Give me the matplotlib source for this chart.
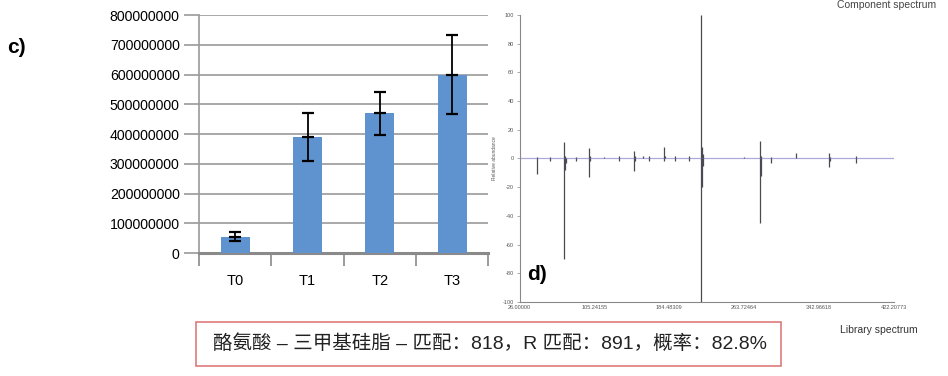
import matplotlib.pyplot as plt
from matplotlib.patches import Rectangle

# --- panel c) bar chart data
groups = ['T0', 'T1', 'T2', 'T3']
means = [55000000, 390000000, 470000000, 600000000]
errs = [15000000, 80000000, 72000000, 133000000]
yticks_c = [0, 100000000, 200000000, 300000000, 400000000, 500000000, 600000000, 700000000, 800000000]

# --- panel d) mass spectrum data (m/z, relative abundance)
comp_mz = [45, 58, 73, 74, 86, 100, 101, 115, 131, 147, 148, 157, 163, 179, 180, 191, 205,
           218, 219, 220, 264, 280, 281, 292, 319, 353, 354, 382]
comp_int = [1, 1, 11.6, 2, 1, 7.4, 1.5, 1, 1.5, 5, 2, 1.5, 1.5, 8, 2, 1.5, 1.5,
            100, 8, 3, 1, 12.5, 2, 1, 3.5, 3.5, 1, 1.5]
lib_mz = [45, 58, 73, 74, 75, 86, 100, 101, 131, 147, 148, 163, 179, 191, 205,
          218, 219, 220, 280, 281, 292, 353, 354, 382]
lib_int = [-10.5, -2, -70, -8, -3, -2, -13, -2, -1.5, -8.8, -2, -1.5, -2, -1.5, -1.5,
           -100, -20, -5, -45, -12, -3, -6, -1.5, -3]
xticks_d = [26.00000, 105.24155, 184.48309, 263.72464, 342.96618, 422.20773]
yticks_d = [100, 80, 60, 40, 20, 0, -20, -40, -60, -80, -100]

label_text = '酪氨酸 – 三甲基硅脂 – 匹配：818，R 匹配：891，概率：82.8%'

plt.rcParams['font.family'] = ['Liberation Sans', 'DejaVu Sans']

fig = plt.figure(figsize=(9.48, 3.76), dpi=100)

# ---------------- panel c)
ax1 = fig.add_axes([0.21, 0.327, 0.305, 0.633])
x = range(len(groups))
ax1.bar(x, means, width=0.4, color='#5f93cf', zorder=3)
ax1.errorbar(x, means, yerr=errs, fmt='_', color='black', ecolor='black',
             elinewidth=1.3, capsize=4.5, capthick=1.3, markersize=9,
             markeredgewidth=1.6, zorder=4)
ax1.set_xlim(-0.5, 3.5)
ax1.set_ylim(0, 800000000)
ax1.set_yticks(yticks_c)
ax1.set_yticklabels([str(v) for v in yticks_c])
ax1.yaxis.grid(True, color='#9a9a9a', linewidth=1.2, zorder=0)
ax1.set_xticks(list(x))
ax1.set_xticklabels(groups)
ax1.set_xticks([-0.5, 0.5, 1.5, 2.5, 3.5], minor=True)
ax1.tick_params(axis='x', which='major', length=0, pad=15, labelsize=10.5)
ax1.tick_params(axis='x', which='minor', length=9, color='#8a8a8a', width=1.2)
ax1.tick_params(axis='y', length=11, color='#9a9a9a', width=1.2, pad=3, labelsize=10.2)
for s in ['top', 'right']:
    ax1.spines[s].set_visible(False)
ax1.spines['left'].set_color('#9a9a9a')
ax1.spines['left'].set_linewidth(1.2)
ax1.spines['bottom'].set_color('#8a8a8a')
ax1.spines['bottom'].set_linewidth(2.2)
ax1.set_axisbelow(True)

fig.text(0.007, 0.873, 'c)', fontsize=15, fontweight='bold', va='center')

# ---------------- panel d)
ax2 = fig.add_axes([0.548, 0.197, 0.395, 0.763])
ax2.axhline(0, color='#a9acdb', linewidth=0.9, zorder=1)
ax2.vlines(comp_mz, 0, comp_int, color='#4a4a55', linewidth=0.9, zorder=2)
ax2.vlines(lib_mz, 0, lib_int, color='#4a4a55', linewidth=0.9, zorder=2)
ax2.set_xlim(26.0, 422.20773)
ax2.set_ylim(-100, 100)
ax2.set_xticks(xticks_d)
ax2.set_xticklabels(['%.5f' % v for v in xticks_d])
ax2.set_yticks(yticks_d)
ax2.set_yticklabels([str(v) for v in yticks_d])
ax2.tick_params(axis='x', length=0, pad=2, labelsize=4, labelcolor='#555555')
ax2.tick_params(axis='y', length=2, width=0.5, color='#888888', pad=2,
                labelsize=4, labelcolor='#555555')
for s in ['top', 'right']:
    ax2.spines[s].set_visible(False)
for s in ['left', 'bottom']:
    ax2.spines[s].set_color('#888888')
    ax2.spines[s].set_linewidth(0.8)
ax2.set_ylabel('Relative abundance', fontsize=3.5, color='#555555', labelpad=4)

fig.text(0.556, 0.27, 'd)', fontsize=15, fontweight='bold', va='center')
fig.text(0.987, 1 - 8 / 376, 'Component spectrum', fontsize=7.5, color='#444444',
         ha='right', va='baseline')
fig.text(0.927, 0.122, 'Library spectrum', fontsize=7.5, color='#333333',
         ha='center', va='center')

# ---------------- caption box
fig.patches.append(Rectangle((196 / 948, 1 - 366 / 376), 585 / 948, 44 / 376,
                             transform=fig.transFigure, fill=False,
                             edgecolor='#e07a7a', linewidth=1.2))
fig.text(490 / 948, 1 - 344 / 376, label_text, fontsize=14, color='#222222',
         ha='center', va='center', family=['Liberation Sans', 'Noto Sans CJK SC'])

fig.savefig('out.png', dpi=100)
